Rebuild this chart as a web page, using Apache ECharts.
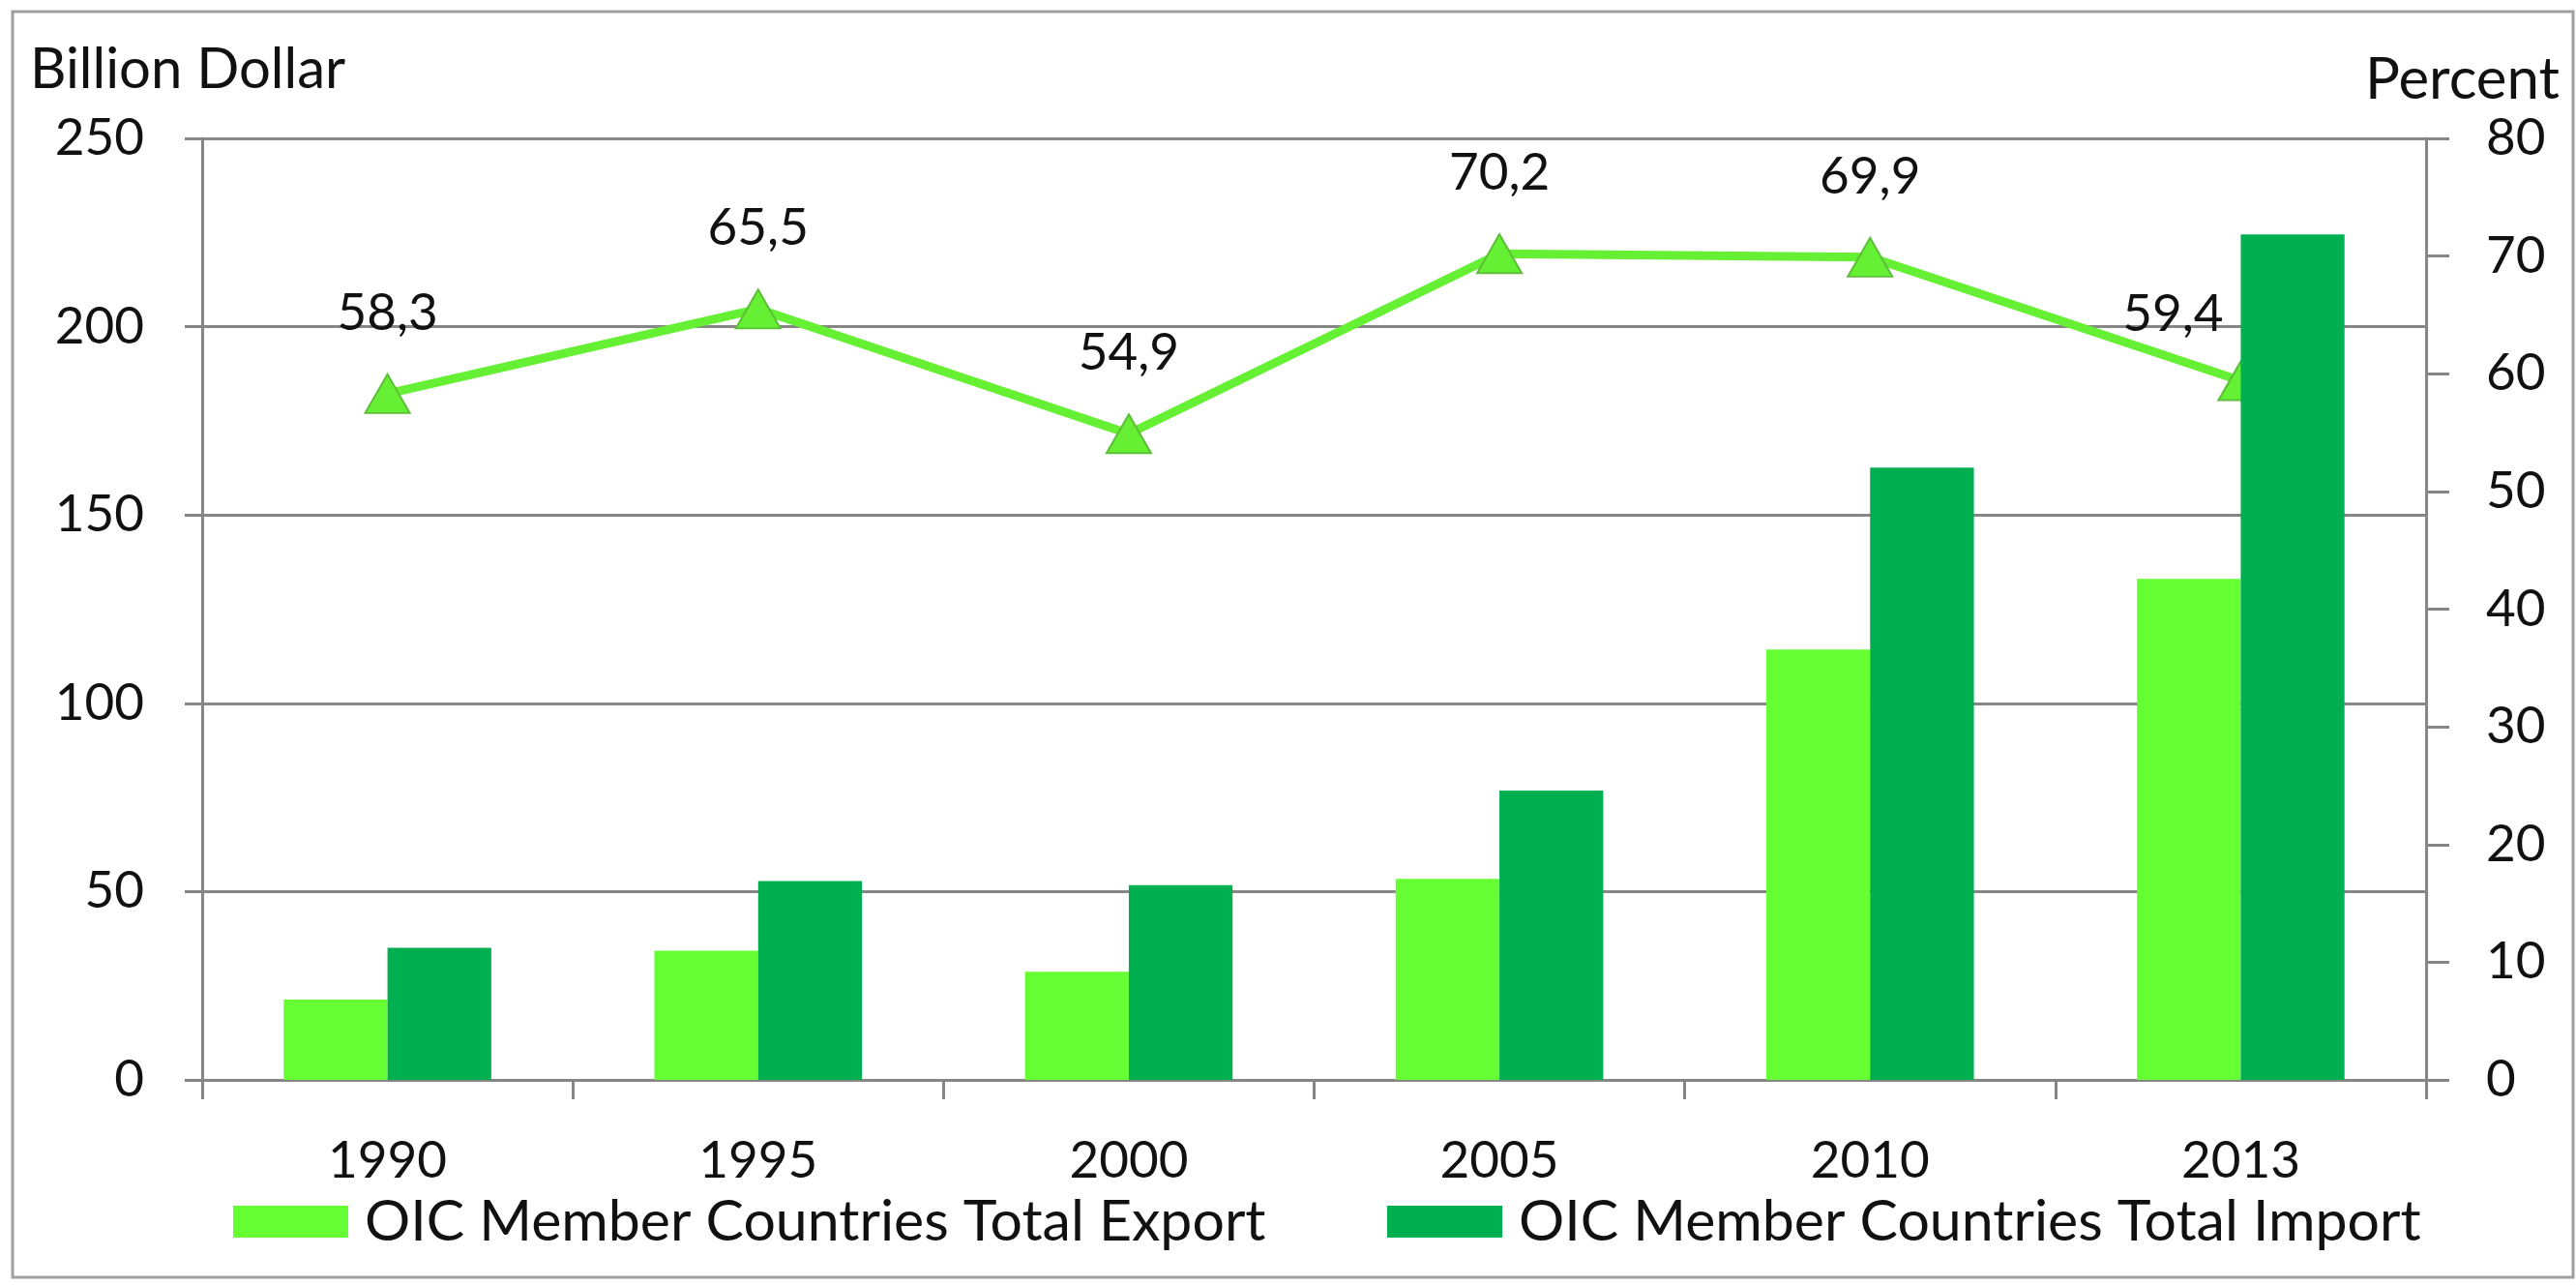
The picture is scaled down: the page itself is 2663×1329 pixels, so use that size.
<!DOCTYPE html>
<html>
<head>
<meta charset="utf-8">
<script src="https://cdn.jsdelivr.net/npm/echarts@6/dist/echarts.min.js"></script>
<style>
html,body{margin:0;padding:0;background:#fff;}
#chart{width:2663px;height:1329px;}
</style>
</head>
<body>
<div id="chart"></div>
<script>
const years = ['1990', '1995', '2000', '2005', '2010', '2013'];
const exportValues = [21.3, 34.3, 28.7, 53.4, 114.3, 133.0];
const importValues = [35.1, 52.8, 51.7, 76.8, 162.6, 224.5];
const percentValues = [58.3, 65.5, 54.9, 70.2, 69.9, 59.4];
const leftTicks = { min: 0, max: 250, interval: 50 };
const rightTicks = { min: 0, max: 80, interval: 10 };
const seriesNames = ['OIC Member Countries Total Export', 'OIC Member Countries Total Import'];

// label offsets (style only)
const labelOffsets = [[0, 0], [0, 0], [0, 0], [0, 0], [0, 0], [-70, 15]];

const FONT = 'Lato';
const TXT = '#111';
const AX = '#868686';
const chart = echarts.init(document.getElementById('chart'));
chart.setOption({
  animation: false,
  backgroundColor: '#fff',
  graphic: [{
    type: 'rect',
    shape: { x: 13, y: 12, width: 2647, height: 1308 },
    style: { fill: 'none', stroke: '#a0a0a0', lineWidth: 3 }
  }],
  title: [
    { text: 'Billion Dollar', left: 26, top: 38, textStyle: { fontFamily: FONT, fontSize: 58, fontWeight: 'normal', color: TXT } },
    { text: 'Percent', left: 2440, top: 48, textStyle: { fontFamily: FONT, fontSize: 60, fontWeight: 'normal', color: TXT } }
  ],
  grid: { left: 209, right: 2663 - 2508, top: 143, bottom: 1329 - 1116, containLabel: false },
  legend: [{
    data: [seriesNames[0]],
    left: 236, top: 1228,
    itemWidth: 119, itemHeight: 33,
    icon: 'rect',
    textStyle: { fontFamily: FONT, fontSize: 59, color: TXT, padding: [0, 0, 0, 12] }
  }, {
    data: [seriesNames[1]],
    left: 1429, top: 1228,
    itemWidth: 119, itemHeight: 33,
    icon: 'rect',
    textStyle: { fontFamily: FONT, fontSize: 59, color: TXT, padding: [0, 0, 0, 12] }
  }],
  xAxis: {
    type: 'category',
    data: years,
    axisLine: { lineStyle: { color: AX, width: 3 } },
    axisTick: { show: true, alignWithLabel: false, length: 20, lineStyle: { color: AX, width: 3 } },
    axisLabel: { fontFamily: FONT, fontSize: 53, color: TXT, margin: 57 },
    splitLine: { show: false }
  },
  yAxis: [{
    type: 'value',
    min: leftTicks.min, max: leftTicks.max, interval: leftTicks.interval,
    axisLine: { show: true, lineStyle: { color: AX, width: 3 } },
    axisTick: { show: true, length: 18, lineStyle: { color: AX, width: 3 } },
    axisLabel: { fontFamily: FONT, fontSize: 53, color: TXT, margin: 60 },
    splitLine: { show: true, lineStyle: { color: AX, width: 3 } }
  }, {
    type: 'value',
    min: rightTicks.min, max: rightTicks.max, interval: rightTicks.interval,
    position: 'right',
    axisLine: { show: true, lineStyle: { color: AX, width: 3 } },
    axisTick: { show: true, length: 24, lineStyle: { color: AX, width: 3 } },
    axisLabel: { fontFamily: FONT, fontSize: 53, color: TXT, margin: 62 },
    splitLine: { show: false }
  }],
  series: [{
    name: seriesNames[0],
    type: 'bar',
    data: exportValues,
    barGap: '0%',
    barCategoryGap: '44%',
    itemStyle: { color: '#66FF33' },
    z: 5
  }, {
    name: seriesNames[1],
    type: 'bar',
    data: importValues,
    itemStyle: { color: '#00B050' },
    z: 5
  }, {
    name: 'Percent',
    type: 'line',
    yAxisIndex: 1,
    data: percentValues.map((v, i) => ({
      value: v,
      label: { offset: labelOffsets[i] }
    })),
    symbol: 'triangle',
    symbolSize: [46, 40],
    lineStyle: { color: '#66F033', width: 9 },
    itemStyle: { color: '#66F033', borderColor: '#5CBF38', borderWidth: 2 },
    label: {
      show: true, position: 'top', distance: 36,
      fontFamily: FONT, fontSize: 53, color: TXT,
      formatter: p => String(p.value).replace('.', ',')
    },
    z: 3
  }]
});
</script>
</body>
</html>
